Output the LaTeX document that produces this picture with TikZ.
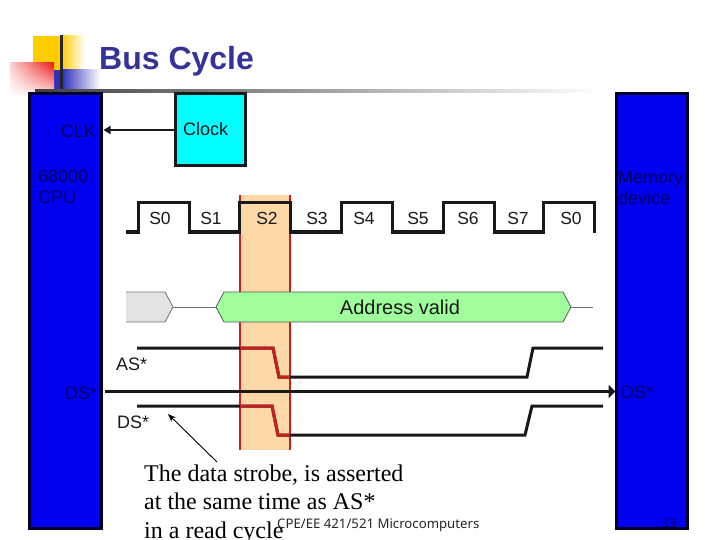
\documentclass[tikz,border=0pt]{standalone}
\usepackage{fontspec}
\setmainfont{Liberation Sans}
\newfontfamily\serifface{Liberation Serif}
\newfontfamily\footface{Noto Sans}
\usetikzlibrary{arrows.meta,shadings}
\definecolor{titleblue}{HTML}{333399}
\definecolor{boxblue}{HTML}{0000F0}
\definecolor{boxedge}{HTML}{00002A}
\definecolor{ontext}{HTML}{00005C}
\definecolor{bandfill}{HTML}{FDD8A6}
\definecolor{bandred}{HTML}{C81E1E}
\definecolor{addrgreen}{HTML}{A0FF9C}
\definecolor{addrgrey}{HTML}{E3E3E3}
\definecolor{clockcyan}{HTML}{00FFFF}
\definecolor{logoyellow}{HTML}{FFCC00}
\definecolor{logored}{HTML}{F01818}
\definecolor{logoblue}{HTML}{3030BB}
\tikzset{
  x=1pt,y=-1pt,
  devbox/.style={draw=boxedge,fill=boxblue,line width=3pt,anchor=north west,inner sep=0pt,outer sep=0pt},
  clockbox/.style={draw=black!90,fill=clockcyan,line width=3pt,anchor=north west,inner sep=0pt,outer sep=0pt,minimum width=70pt,minimum height=72pt},
  lab/.style={font=\fontsize{18}{20}\selectfont,text=black!90,inner sep=0pt},
  onblue/.style={font=\fontsize{18}{20}\selectfont,text=ontext,inner sep=0pt,align=left},
  sig/.style={line width=3pt,line cap=butt,line join=miter,black!90},
  sigred/.style={line width=3pt,line join=miter,bandred},
  thinbus/.style={line width=.8pt,black!55},
  busshape/.style={line width=.8pt,draw=black!65},
  note/.style={font=\serifface\fontsize{24}{28.5}\selectfont,text=black,inner sep=0pt,anchor=base west},
}
\begin{document}
\begin{tikzpicture}
\useasboundingbox (0,0) rectangle (720,540);
\fill[white] (0,0) rectangle (720,540);
% logo
\shade[left color=logoyellow,right color=white] (61,36) rectangle (85,70);
\fill[logoyellow] (33,36) rectangle (61,70);
\shade[left color=logoblue,right color=white] (62,70) rectangle (100,92);
\fill[logoblue] (54,70) rectangle (62,92);
\shade[upper right=logored,upper left=logored!20,lower right=logored!15,lower left=white] (10,63) rectangle (54,95);
\draw[line width=3pt,black!85] (61,35) -- (61,92);
\shade[left color=black!75,right color=white] (35,89.5) rectangle (600,92.5);
\node[font=\bfseries\fontsize{32}{34}\selectfont,text=titleblue,inner sep=0pt,anchor=base west] (title) at (99,70) {Bus Cycle};
% devices
\node[devbox,minimum width=72pt,minimum height=435pt] (cpu) at (29.5,93.5) {};
\node[devbox,minimum width=71pt,minimum height=435pt] (mem) at (616.5,93.5) {};
\node[clockbox] (clock) at (175.5,94) {};
\node[lab,anchor=west] (clocktxt) at (183,129) {Clock};
\node[onblue,anchor=east] (clk) at (96,131) {CLK};
\node[onblue,anchor=north west] (cputxt) at (38,170) {68000\\[1pt]CPU};
\node[onblue,anchor=north west] (memtxt) at (618,171) {Memory\\[1pt]device};
\draw[sig,line width=2.5pt,shorten >=2pt,-{Triangle[length=7pt,width=8pt]}] (clock.west) -- (clock.west -| cpu.east);
% band
\fill[bandfill] (240,195) rectangle (290,450);
\draw[line width=2pt,bandred] (239.5,195) -- (239.5,450);
\draw[line width=2pt,bandred] (290,195) -- (290,450);
% clock wave
\draw[sig] (126,232) -- (138,232) -- (138,203) -- (189,203) -- (189,232) -- (239,232) -- (239,203) -- (290,203) -- (290,232) -- (341,232) -- (341,203) -- (392,203) -- (392,232) -- (443,232) -- (443,203) -- (494,203) -- (494,232) -- (543,232) -- (543,203) -- (594,203) -- (594,233);
\foreach \nm/\tx/\xx in {a/S0/160,b/S1/211,c/S2/267,d/S3/317,e/S4/364,f/S5/418,g/S6/468,h/S7/518,i/S0/571}
  \node[lab,font=\fontsize{17.5}{20}\selectfont] (st\nm) at (\xx,218) {\tx};
% address
\draw[busshape,fill=addrgrey,draw=black!55] (126,292) -- (165,292) -- (173,307) -- (165,322) -- (126,322);
\draw[busshape,fill=addrgreen] (224,292) -- (563,292) -- (571,307) -- (563,322) -- (224,322) -- (216,307) -- cycle;
\draw[thinbus] (173,307) -- (216,307);
\draw[thinbus] (571,307) -- (593,307);
\node[lab,font=\fontsize{20}{22}\selectfont] (addr) at (400,307) {Address valid};
% AS*
\draw[sig] (137,348) -- (273,348) -- (279,377) -- (527,377) -- (533,348) -- (603,348);
\draw[sigred] (240,348) -- (273,348) -- (279,377) -- (290,377);
\node[lab,anchor=west] (aslab) at (116,364) {AS*};
% DS* through
\node[onblue,anchor=west] (dsl) at (65,393) {DS*};
\node[onblue,anchor=west] (dsr) at (621,392) {DS*};
\coordinate (dsfrom) at (105,391.5);
\draw[sig,shorten >=1pt,-{Triangle[length=7pt,width=13pt]}] (dsfrom) -- (dsfrom -| mem.west);
% DS*
\draw[sig] (137,406) -- (272,406) -- (278,435) -- (525,435) -- (532,406) -- (603,406);
\draw[sigred] (240,406) -- (272,406) -- (278,435) -- (290,435);
\node[lab,anchor=west] (dslab) at (117,422) {DS*};
% note
\node[note] (n1) at (144,481) {The data strobe, is asserted};
\node[note] (n2) at (144,509) {at the same time as AS*};
\node[note] (n3) at (144,538) {in a read cycle};
\coordinate (ptr) at (168,414);
\coordinate (ptrfrom) at (217,462);
\draw[line width=.9pt,black,-{Stealth[length=8pt,width=6pt]}] (ptrfrom) -- (ptr);
% footer
\node[font=\footface\fontsize{13.2}{15}\selectfont,text=black!85,inner sep=0pt,anchor=base west] (foot) at (277,528) {CPE/EE 421/521 Microcomputers};
\node[font=\footface\fontsize{12}{14}\selectfont,text=ontext,inner sep=0pt] (pg) at (669,523) {33};
\end{tikzpicture}
\end{document}
